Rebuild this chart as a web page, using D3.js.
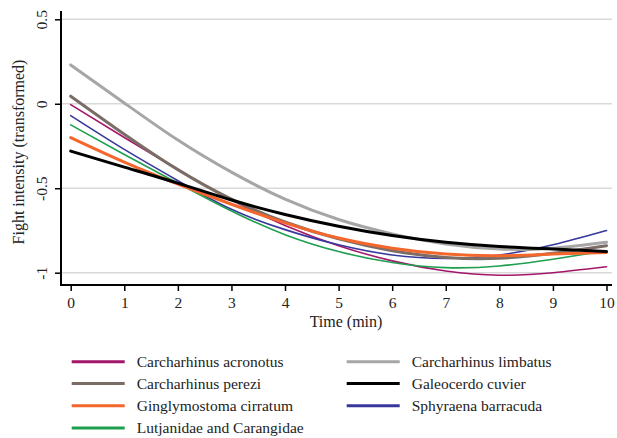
<!DOCTYPE html>
<html>
<head>
<meta charset="utf-8">
<script src="https://cdn.jsdelivr.net/npm/d3@7"></script>
<style>
  body { margin: 0; background: #fff; }
  svg { display: block; font-family: "Liberation Serif", "Times New Roman", serif; }
</style>
</head>
<body>
<svg id="chart"></svg>
<script>
// data, one value per minute
const minutes = [0, 1, 2, 3, 4, 5, 6, 7, 8, 9, 10];

const acronotus = [-0.005, -0.2, -0.39, -0.57, -0.72, -0.84, -0.93, -0.99, -1.015, -1.0, -0.965];
const perezi    = [0.045, -0.18, -0.39, -0.565, -0.7, -0.8, -0.87, -0.91, -0.915, -0.885, -0.84];
const cirratum  = [-0.2, -0.345, -0.475, -0.595, -0.705, -0.795, -0.855, -0.89, -0.9, -0.89, -0.88];
const lutjanidae = [-0.125, -0.3, -0.47, -0.635, -0.775, -0.875, -0.94, -0.97, -0.96, -0.92, -0.87];
const limbatus  = [0.23, 0.005, -0.215, -0.405, -0.565, -0.685, -0.77, -0.83, -0.86, -0.855, -0.82];
const cuvier    = [-0.28, -0.375, -0.47, -0.57, -0.655, -0.725, -0.78, -0.82, -0.845, -0.86, -0.875];
const barracuda = [-0.07, -0.27, -0.455, -0.625, -0.745, -0.835, -0.895, -0.915, -0.895, -0.835, -0.75];

const xTicks = [0, 1, 2, 3, 4, 5, 6, 7, 8, 9, 10];
const yTicks = [0.5, 0, -0.5, -1];

// series in legend order (left column first, then right column)
const series = [
    {name: "Carcharhinus acronotus", values: acronotus, color: "#a3176a", width: 1.6},
    {name: "Carcharhinus perezi", values: perezi, color: "#7b6d66", width: 3},
    {name: "Ginglymostoma cirratum", values: cirratum, color: "#f4672c", width: 3},
    {name: "Lutjanidae and Carangidae", values: lutjanidae, color: "#1f9f4f", width: 1.6},
    {name: "Carcharhinus limbatus", values: limbatus, color: "#a6a6a6", width: 3},
    {name: "Galeocerdo cuvier", values: cuvier, color: "#000000", width: 3},
    {name: "Sphyraena barracuda", values: barracuda, color: "#38389c", width: 1.6}
];
// drawing order so the overlaps look like the original
const drawOrder = [0, 6, 3, 1, 4, 2, 5];

const width = 617, height = 438;

const svg = d3.select("#chart")
    .attr("width", width)
    .attr("height", height);

// scales (pixel ranges picked to fit the original layout)
const xScale = d3.scaleLinear()
    .domain([0, 10])
    .range([70.7, 606.5]);

const yScale = d3.scaleLinear()
    .domain([-1, 0.5])
    .range([272.7, 19.3]);

const plotLeft = 61, plotRight = 612, plotTop = 11, plotBottom = 285;

// horizontal grid lines
svg.append("g")
    .selectAll("line")
    .data(yTicks)
    .join("line")
    .attr("x1", plotLeft)
    .attr("x2", plotRight)
    .attr("y1", d => yScale(d))
    .attr("y2", d => yScale(d))
    .attr("stroke", "#d9d9d9")
    .attr("stroke-width", 1.5);

// lines
const line = d3.line()
    .x((d, i) => xScale(minutes[i]))
    .y(d => yScale(d))
    .curve(d3.curveNatural);

svg.append("g")
    .selectAll("path")
    .data(drawOrder.map(i => series[i]))
    .join("path")
    .attr("d", d => line(d.values))
    .attr("fill", "none")
    .attr("stroke", d => d.color)
    .attr("stroke-width", d => d.width)
    .attr("stroke-linecap", "round");

// x axis
const xAxis = d3.axisBottom(xScale)
    .tickValues(xTicks)
    .tickFormat(d3.format("d"))
    .tickSize(6)
    .tickPadding(6);

const xAxisG = svg.append("g")
    .attr("transform", `translate(0,${plotBottom})`)
    .call(xAxis);
xAxisG.select(".domain").remove();
xAxisG.append("line")
    .attr("x1", plotLeft - 1)
    .attr("x2", plotRight)
    .attr("stroke", "#000")
    .attr("stroke-width", 2);
xAxisG.selectAll(".tick line").attr("stroke-width", 1.5);
xAxisG.selectAll(".tick text")
    .attr("font-family", "Liberation Serif")
    .attr("font-size", 15.5)
    .attr("fill", "#222");

// y axis
const yAxis = d3.axisLeft(yScale)
    .tickValues(yTicks)
    .tickFormat(d => d === 0 ? "0" : d3.format("")(d).replace("−", "-"))
    .tickSize(6)
    .tickPadding(6);

const yAxisG = svg.append("g")
    .attr("transform", `translate(${plotLeft},0)`)
    .call(yAxis);
yAxisG.select(".domain").remove();
yAxisG.append("line")
    .attr("y1", plotTop)
    .attr("y2", plotBottom + 1)
    .attr("stroke", "#000")
    .attr("stroke-width", 2);
yAxisG.selectAll(".tick line").attr("stroke-width", 1.5);
yAxisG.selectAll(".tick text")
    .attr("font-family", "Liberation Serif")
    .attr("font-size", 15.5)
    .attr("fill", "#222")
    .attr("text-anchor", "middle")
    .attr("x", null)
    .attr("dy", null)
    .attr("transform", "translate(-14,0) rotate(-90)");

// axis titles
svg.append("text")
    .attr("x", 346)
    .attr("y", 327)
    .attr("text-anchor", "middle")
    .attr("font-size", 16)
    .attr("fill", "#222")
    .text("Time (min)");

svg.append("text")
    .attr("transform", "translate(24,152) rotate(-90)")
    .attr("text-anchor", "middle")
    .attr("font-size", 16)
    .attr("fill", "#222")
    .text("Fight intensity (transformed)");

// legend: two columns
const legendRows = [361.7, 383.5, 405.7, 428];
const legendCols = [71.7, 346.7];

const legend = svg.append("g")
    .selectAll("g")
    .data(series)
    .join("g")
    .attr("transform", (d, i) => {
        const col = i < 4 ? 0 : 1;
        const row = i < 4 ? i : i - 4;
        return `translate(${legendCols[col]},${legendRows[row]})`;
    });

legend.append("line")
    .attr("x1", 0)
    .attr("x2", 53)
    .attr("stroke", d => d.color)
    .attr("stroke-width", 3);

legend.append("text")
    .attr("x", 65)
    .attr("y", 5)
    .attr("font-size", 15.5)
    .attr("fill", "#222")
    .text(d => d.name);
</script>
</body>
</html>
